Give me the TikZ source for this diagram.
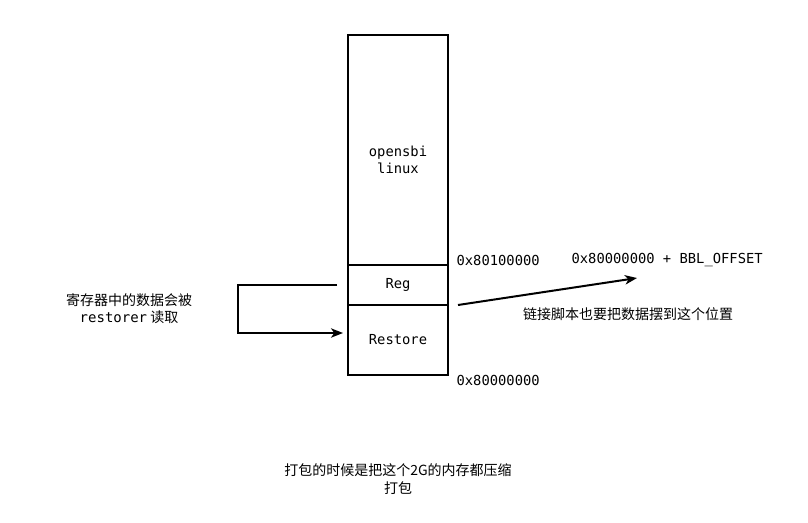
\documentclass[tikz,border=0pt]{standalone}
\usepackage{fontspec}
\usepackage{tikz}
\usepackage{xcolor}
\usetikzlibrary{arrows.meta}
\setmonofont{DejaVu Sans Mono}
\newfontfamily\cjk{Noto Sans CJK SC}

\begin{document}
\begin{tikzpicture}[x=0.75pt,y=-0.75pt]
  \tikzset{block/.style = {draw,line width=1.5pt,inner sep=0pt}}
  \tikzset{mono/.style = {font=\ttfamily\fontsize{10.35}{12.5}\selectfont,inner sep=1pt}}
  \tikzset{cn/.style = {font=\cjk\fontsize{10.5}{13}\selectfont,inner sep=1pt,align=center}}
  \tikzset{edge/.style = {-{Stealth[length=9pt,width=7pt,inset=2.5pt]},line width=1.5pt}}

  \useasboundingbox (0,0) rectangle (808,522);

	\node[block,minimum width=100*0.75pt,minimum height=230*0.75pt] (top) at (398,150) {};
	\node[block,minimum width=100*0.75pt,minimum height=40*0.75pt] (reg) at (398,285) {};
	\node[block,minimum width=100*0.75pt,minimum height=70*0.75pt] (restore) at (398,340) {};

	\node[mono,align=center] (sbi) at (398,160) {opensbi\\linux};
	\node[mono] (regtext) at (398,285) {Reg};
	\node[mono] (restoretext) at (398,340) {Restore};

	\node[mono,anchor=west] (hi) at (455,260) {0x80100000};
	\node[mono,anchor=west] (lo) at (455,380) {0x80000000};
	\node[mono,anchor=west] (bbl) at (570,260) {0x80000000 + BBL\_OFFSET};

	\node[cn] (note) at (628,314) {链接脚本也要把数据摆到这个位置};
	\node[cn] (read) at (129,309) {寄存器中的数据会被\\{\ttfamily restorer} 读取};
	\node[cn] (pack) at (398,479) {打包的时候是把这个2G的内存都压缩\\打包};

	\coordinate (from) at (337,285);
	\coordinate (to) at (343,333);
	\coordinate (start) at (458,305);
	\coordinate (end) at (637,278);

    \draw[edge] (from) -- (238,285) |- (to);
    \draw[edge] (start) -- (end);

\end{tikzpicture}
\end{document}
